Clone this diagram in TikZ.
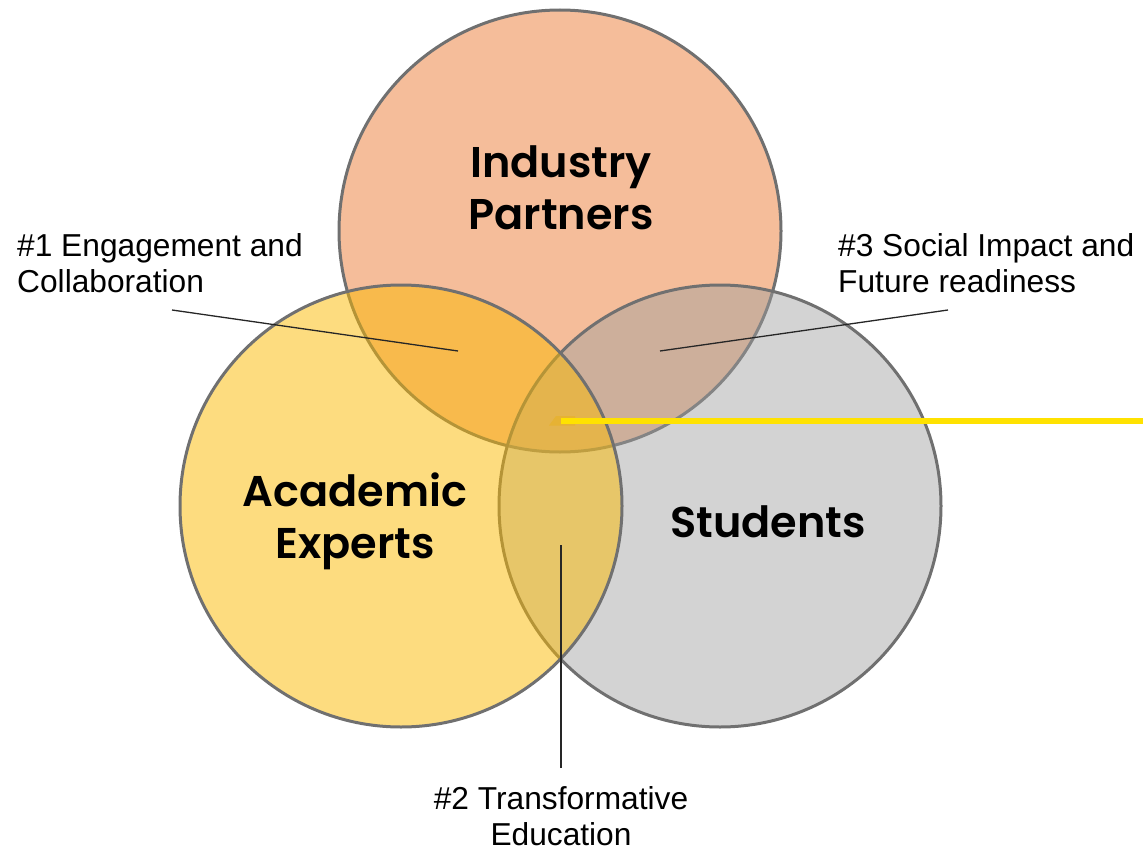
\documentclass[tikz,border=0pt]{standalone}
\usepackage{fontspec}
\setmainfont{Liberation Sans}
\newfontfamily\pop{Poppins SemiBold}
\definecolor{salmon}{RGB}{245,189,154}
\definecolor{greyfill}{RGB}{158,158,158}
\definecolor{yellowfill}{RGB}{251,185,0}
\definecolor{edge}{RGB}{112,112,112}
\definecolor{hiline}{RGB}{255,226,0}
\definecolor{tab}{RGB}{230,178,52}
\tikzset{
  venn/.style={line width=3pt, draw=edge},
  biglabel/.style={font=\pop\fontsize{43}{52}\selectfont, align=center, inner sep=0pt},
  smalllabel/.style={font=\fontsize{31.7}{36}\selectfont, inner sep=0pt},
  leader/.style={line width=1.3pt, draw=black!85},
}
\begin{document}
\begin{tikzpicture}[x=1pt,y=-1pt]
\useasboundingbox (0,0) rectangle (1143,851);
% circles
\filldraw[venn, fill=salmon] (560,231) circle (221);
\filldraw[venn, fill=greyfill, fill opacity=0.45] (720,506) circle (221);
\filldraw[venn, fill=yellowfill, fill opacity=0.5] (401,506) circle (221);
% circle labels
\node[biglabel] (ind) at (561,188) {Industry\\Partners};
\node[biglabel] (acad) at (355,521) {Academic\\Experts};
\node[biglabel] (stud) at (768,522) {Students};
% highlight line
\fill[tab] (549,425.5) -- (556,416) -- (575,416) -- (575,425.5) -- cycle;
\coordinate (ys) at (561,421);
\coordinate (ye) at (1143,421);
\draw[hiline, line width=6pt] (ys) -- (ye);
% labels
\node[smalllabel, anchor=north west, align=left] (l1) at (17,233) {\#1 Engagement and\\Collaboration};
\node[smalllabel, anchor=north west, align=left] (l3) at (838,233) {\#3 Social Impact and\\Future readiness};
\node[smalllabel, anchor=north, align=center] (l2) at (561,786) {\#2 Transformative\\Education};
% leaders
\coordinate (a1) at (172,310);
\coordinate (b1) at (458,351);
\coordinate (a3) at (948,310);
\coordinate (b3) at (660,351);
\coordinate (a2) at (561,768);
\coordinate (b2) at (561,545);
\draw[leader] (a1) -- (b1);
\draw[leader] (a3) -- (b3);
\draw[leader] (a2) -- (b2);
\end{tikzpicture}
\end{document}
